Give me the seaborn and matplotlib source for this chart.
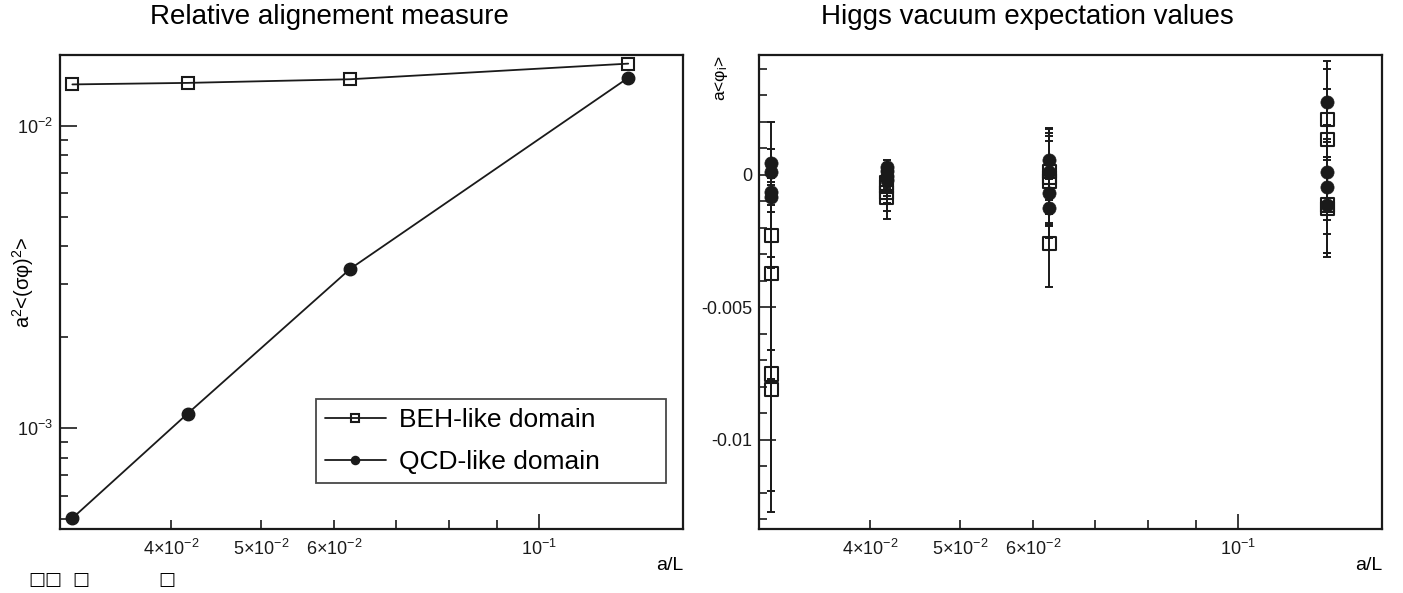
import numpy as np
import pandas as pd
import matplotlib
matplotlib.use("Agg")
import matplotlib.pyplot as plt
import matplotlib.ticker as mticker
import seaborn as sns

# lattice spacings a/L
a_over_L = [1 / 32, 1 / 24, 1 / 16, 1 / 8]

# relative alignment measure a^2 <(sigma phi)^2>
beh_align = [0.01371, 0.01387, 0.01426, 0.01606]
qcd_align = [5.05e-4, 1.12e-3, 3.37e-3, 0.01442]

# Higgs vacuum expectation values a<phi_i>, four components per lattice spacing
qcd_vev = [[0.00044, 0.00012, -0.00063, -0.00082],
           [0.00030, 0.00015, -0.00005, -0.00020],
           [0.00057, 0.00010, -0.00067, -0.00126],
           [0.00277, 0.00010, -0.00044, -0.00113]]
qcd_vev_err = [[0.00055, 0.00050, 0.00050, 0.00056],
               [0.00027, 0.00030, 0.00030, 0.00030],
               [0.00122, 0.00120, 0.00120, 0.00110],
               [0.00154, 0.00180, 0.00180, 0.00180]]
beh_vev = [[-0.00229, -0.00371, -0.00751, -0.00811],
           [-0.00030, -0.00045, -0.00065, -0.00085],
           [0.00012, -0.00010, -0.00023, -0.00258],
           [0.00210, 0.00135, -0.00113, -0.00125]]
beh_vev_err = [[0.00430, 0.00400, 0.00440, 0.00460],
               [0.00050, 0.00060, 0.00070, 0.00080],
               [0.00160, 0.00170, 0.00170, 0.00163],
               [0.00190, 0.00190, 0.00180, 0.00183]]

x_ticks_labeled = [0.04, 0.05, 0.06]
x_minor = [0.04, 0.05, 0.06, 0.07, 0.08, 0.09]


def long_form(vals, errs):
    xs = np.repeat(a_over_L, 4)
    return pd.DataFrame({"aL": xs, "vev": np.ravel(vals), "err": np.ravel(errs)})


sns.set_theme(style="white")
plt.rcParams["font.family"] = ["Liberation Sans", "DejaVu Sans"]
plt.rcParams["mathtext.fontset"] = "custom"
plt.rcParams["mathtext.rm"] = "Liberation Sans"
plt.rcParams["mathtext.it"] = "Liberation Sans:italic"
plt.rcParams["axes.unicode_minus"] = False
for key in ("text.color", "axes.labelcolor", "xtick.color", "ytick.color",
            "axes.edgecolor"):
    plt.rcParams[key] = "black"

W, H = 1403, 593
fig = plt.figure(figsize=(W / 100, H / 100), dpi=100)
ax1 = fig.add_axes([60 / W, 1 - 529 / H, 623 / W, 474 / H])
ax2 = fig.add_axes([759 / W, 1 - 529 / H, 623 / W, 474 / H])

# ---- left panel ----
sns.lineplot(x=a_over_L, y=beh_align, ax=ax1, color="k", lw=1.3, marker="s",
             ms=9, mfc="none", mec="k", mew=1.5, label="BEH-like domain")
sns.lineplot(x=a_over_L, y=qcd_align, ax=ax1, color="k", lw=1.3, marker="o",
             ms=9, mfc="k", mec="k", mew=1.0, label="QCD-like domain")
ax1.set_yscale("log")
ax1.set_ylim(4.65e-4, 0.01715)
ax1.yaxis.set_major_locator(mticker.FixedLocator([1e-3, 1e-2]))
ax1.yaxis.set_major_formatter(mticker.FixedFormatter(
    [r"$\mathregular{10^{-3}}$", r"$\mathregular{10^{-2}}$"]))
ax1.yaxis.set_minor_locator(mticker.LogLocator(base=10, subs=np.arange(2, 10)))
ax1.yaxis.set_minor_formatter(mticker.NullFormatter())

leg = ax1.legend(loc="lower left", bbox_to_anchor=(0.411, 0.097, 0.562, 0.177),
                 mode="expand", borderaxespad=0, fontsize=19, frameon=True,
                 fancybox=False, edgecolor="k", handlelength=2.3,
                 handletextpad=0.5, labelspacing=0.68, borderpad=0.34,
                 markerscale=0.65)
leg.get_frame().set_linewidth(1.3)
for t in leg.get_texts():
    t.set_color("black")

# ---- right panel ----
df_q = long_form(qcd_vev, qcd_vev_err)
df_b = long_form(beh_vev, beh_vev_err)
for df in (df_b, df_q):
    ax2.errorbar(df["aL"], df["vev"], yerr=df["err"], fmt="none", ecolor="k",
                 elinewidth=1.4, capsize=3, capthick=1.4, zorder=2)
sns.scatterplot(data=df_q, x="aL", y="vev", ax=ax2, marker="o", s=90,
                color="k", edgecolor="k", linewidth=0.5, zorder=3)
sns.scatterplot(data=df_b, x="aL", y="vev", ax=ax2, marker="s", s=90,
                color="k", facecolor="none", edgecolor="k", linewidth=1.5, zorder=4)
ax2.set_ylim(-0.01336, 0.004528)
ax2.yaxis.set_major_locator(mticker.FixedLocator([-0.01, -0.005, 0]))
ax2.yaxis.set_major_formatter(mticker.FixedFormatter(["-0.01", "-0.005", "0"]))
ax2.yaxis.set_minor_locator(mticker.MultipleLocator(0.001))

# ---- shared styling ----
for ax in (ax1, ax2):
    ax.set_xscale("log")
    ax.set_xlim(0.0303, 0.1433)
    ax.xaxis.set_major_locator(mticker.FixedLocator([0.1]))
    ax.xaxis.set_major_formatter(mticker.FixedFormatter([r"$\mathregular{10^{-1}}$"]))
    ax.xaxis.set_minor_locator(mticker.FixedLocator(x_minor))
    ax.xaxis.set_minor_formatter(mticker.FuncFormatter(
        lambda v, p: r"$\mathregular{%d{\times}10^{-2}}$" % round(v * 100)
        if round(v, 3) in x_ticks_labeled else ""))
    ax.set_xlabel("")
    ax.set_ylabel("")
    ax.grid(False)
    for s in ax.spines.values():
        s.set_linewidth(1.6)
        s.set_color("k")
    ax.tick_params(axis="both", which="both", direction="in", colors="k",
                   width=1.2, labelsize=13, bottom=True, left=True,
                   top=False, right=False)
    ax.tick_params(axis="x", which="major", length=11, pad=7)
    ax.tick_params(axis="x", which="minor", length=6.5, pad=7)
    ax.tick_params(axis="y", which="major", length=12, pad=5)
    ax.tick_params(axis="y", which="minor", length=6, pad=5)

# titles and axis labels
fig.text(150 / W, 1 - 17 / H, "Relative alignement measure", fontsize=20,
         ha="left", va="center")
fig.text(821 / W, 1 - 17 / H, "Higgs vacuum expectation values", fontsize=20,
         ha="left", va="center")
fig.text(23 / W, 1 - 282 / H, r"a$^\mathregular{2}$<(σφ)$^\mathregular{2}$>",
         rotation=90, fontsize=14.5, ha="center", va="center")
fig.text(721 / W, 1 - 55 / H, r"a<φ$_\mathregular{i}$>", rotation=90,
         fontsize=12.5, ha="center", va="top")
fig.text(683 / W, 1 - 565 / H, "a/L", fontsize=14, ha="right", va="center")
fig.text(1382 / W, 1 - 565 / H, "a/L", fontsize=14, ha="right", va="center")

# stray glyph boxes under the left panel
fig.text(28 / W, 1 - 580 / H, "□□", fontsize=13, ha="left", va="center",
         family=["DejaVu Sans"])
fig.text(72 / W, 1 - 580 / H, "□", fontsize=13, ha="left", va="center",
         family=["DejaVu Sans"])
fig.text(158 / W, 1 - 580 / H, "□", fontsize=13, ha="left", va="center",
         family=["DejaVu Sans"])

fig.savefig("out.png", dpi=100, facecolor="white")
